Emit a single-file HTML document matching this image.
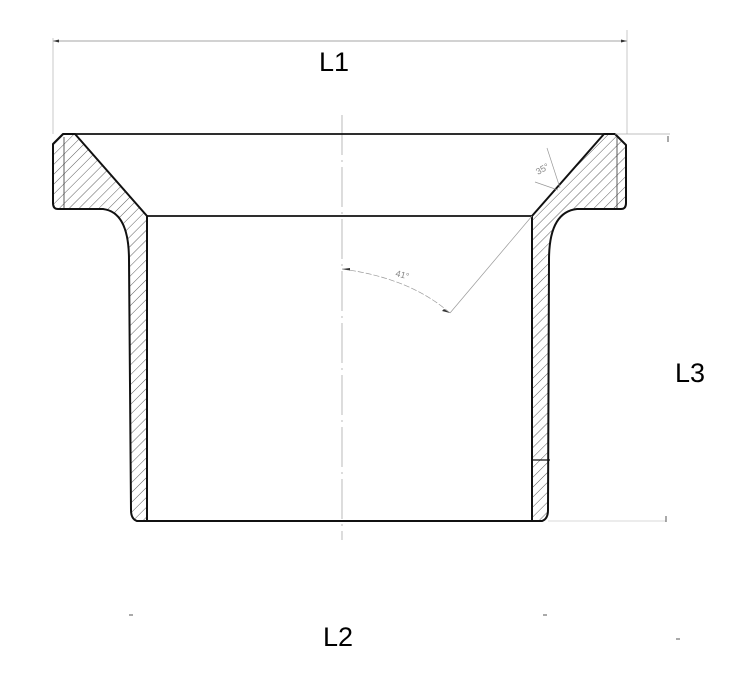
<!DOCTYPE html>
<html><head><style>html,body{margin:0;padding:0;background:#fff}svg{display:block}</style></head><body>
<svg width="752" height="682" viewBox="0 0 752 682" xmlns="http://www.w3.org/2000/svg">
<defs>
<pattern id="h" patternUnits="userSpaceOnUse" width="7" height="7" patternTransform="rotate(45)">
<line x1="0" y1="0" x2="0" y2="7" stroke="#333" stroke-width="0.8"/>
</pattern>
</defs>
<!-- dimension L1 -->
<line x1="53" y1="41" x2="627" y2="41" stroke="#888" stroke-width="0.8"/>
<line x1="53" y1="38" x2="53" y2="134" stroke="#bbb" stroke-width="0.8"/>
<line x1="627" y1="30" x2="627" y2="134" stroke="#bbb" stroke-width="0.8"/>
<path d="M53 41 l6 -1.5 v3z M627 41 l-6 -1.5 v3z" fill="#333"/>
<text x="334" y="71" font-family="Liberation Sans, sans-serif" font-size="27" text-anchor="middle">L1</text>
<!-- centerline -->
<line x1="342" y1="115" x2="342" y2="540" stroke="#aaa" stroke-width="0.8" stroke-dasharray="40,5,2,5"/>
<!-- left section -->
<path d="M63 134 L75 134 L147 216 L147 521 L137 521 Q131 519 131 510 L129 260 Q129 212 103 209 L58 209 Q53 209 53 203 L53 144 Z" fill="url(#h)" stroke="#111" stroke-width="2" stroke-linejoin="round"/>
<line x1="64" y1="137" x2="64" y2="208" stroke="#333" stroke-width="0.8"/>
<!-- right section -->
<path d="M615 134 L604 134 L532 216 L532 521 L542 521 Q548 519 548 510 L549 260 Q549 212 577 209 L621 209 Q626 209 626 203 L626 145 Z" fill="url(#h)" stroke="#111" stroke-width="2" stroke-linejoin="round"/>
<line x1="617" y1="137" x2="617" y2="208" stroke="#333" stroke-width="0.8"/>
<!-- top & inner lines -->
<line x1="63" y1="134" x2="615" y2="134" stroke="#111" stroke-width="1.8"/>
<line x1="615" y1="134" x2="670" y2="134" stroke="#aaa" stroke-width="0.8"/>
<line x1="147" y1="216" x2="532" y2="216" stroke="#111" stroke-width="1.8"/>
<line x1="137" y1="521" x2="542" y2="521" stroke="#111" stroke-width="2"/>
<line x1="548" y1="521" x2="666" y2="521" stroke="#ccc" stroke-width="0.8"/>
<line x1="666" y1="516" x2="666" y2="522" stroke="#555" stroke-width="1"/>
<line x1="668" y1="136" x2="668" y2="142" stroke="#555" stroke-width="1"/>
<line x1="532" y1="460" x2="550" y2="460" stroke="#111" stroke-width="1.2"/>
<!-- 35 angle -->
<line x1="547" y1="148" x2="560" y2="188" stroke="#999" stroke-width="0.7"/>
<line x1="535" y1="182" x2="558" y2="190" stroke="#999" stroke-width="0.7"/>
<text x="538" y="175" font-family="Liberation Sans, sans-serif" font-size="9" fill="#888" transform="rotate(-30 538 175)">35°</text>
<!-- 41 angle -->
<line x1="532" y1="216" x2="450" y2="313" stroke="#999" stroke-width="0.7"/>
<path d="M342 269 Q410 278 450 313" fill="none" stroke="#999" stroke-width="0.7" stroke-dasharray="6,2"/>
<path d="M342 269 l8 -1 v2.5z M450 313 l-6 -4 l-2 2z" fill="#333"/>
<text x="395" y="276" font-family="Liberation Sans, sans-serif" font-size="9" fill="#888" transform="rotate(15 395 276)">41°</text>
<!-- labels -->
<text x="690" y="382" font-family="Liberation Sans, sans-serif" font-size="27" text-anchor="middle">L3</text>
<text x="338" y="646" font-family="Liberation Sans, sans-serif" font-size="27" text-anchor="middle">L2</text>
<line x1="129" y1="615" x2="133" y2="615" stroke="#555"/>
<line x1="543" y1="615" x2="547" y2="615" stroke="#555"/>
<line x1="676" y1="639" x2="680" y2="639" stroke="#555"/>
</svg>
</body></html>
